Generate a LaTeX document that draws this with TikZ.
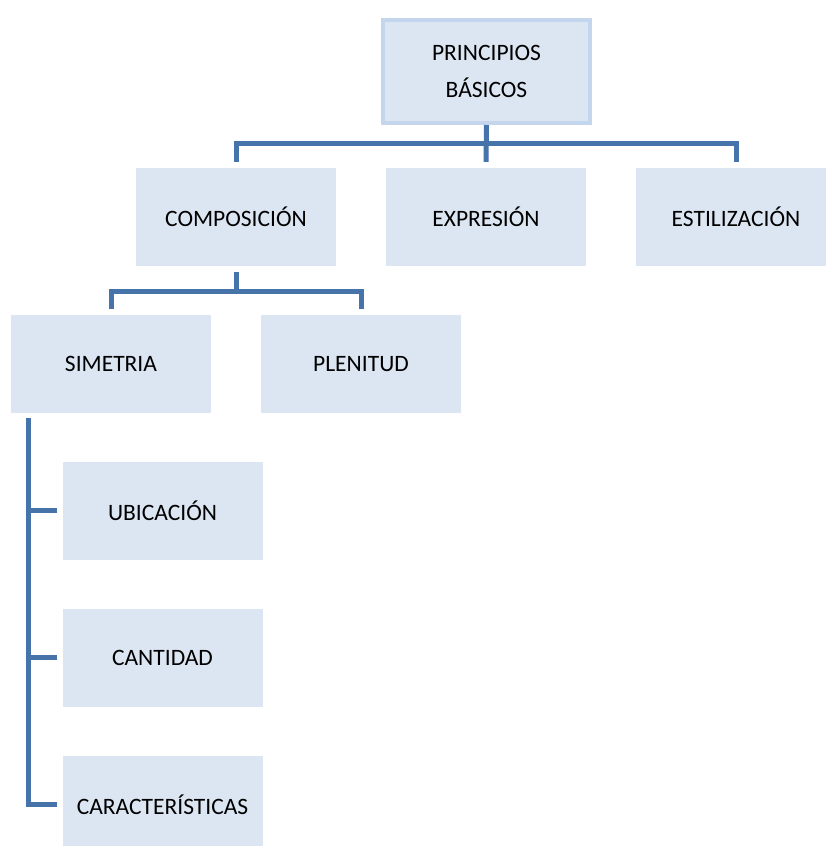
\documentclass[tikz,border=0pt]{standalone}
\usepackage{fontspec}
\setmainfont{Carlito}
\definecolor{boxfill}{HTML}{DCE6F2}
\definecolor{topborder}{HTML}{C3D6EE}
\definecolor{connblue}{HTML}{4673A9}
\begin{document}
\begin{tikzpicture}[x=1pt,y=-1pt,
  box/.style={fill=boxfill, draw=none, minimum width=200pt, minimum height=98pt,
    inner sep=0pt, font=\fontsize{23.5}{37}\selectfont, align=center},
  topbox/.style={box, draw=topborder, line width=4pt, minimum width=207pt, minimum height=103pt},
  conn/.style={draw=connblue, line width=5pt}]
\path[use as bounding box, clip] (0,0) rectangle (826,846);
\fill[white] (0,0) rectangle (826,846);
% nodes
\node[topbox] (top) at (486.5,71.5) {PRINCIPIOS\\BÁSICOS};
\node[box] (comp) at (236,217) {COMPOSICIÓN};
\node[box] (expr) at (486,217) {EXPRESIÓN};
\node[box] (estil) at (736,217) {ESTILIZACIÓN};
\node[box] (sim) at (111,364) {SIMETRIA};
\node[box] (plen) at (361,364) {PLENITUD};
\node[box] (ubic) at (162.5,510.5) {UBICACIÓN};
\node[box] (cant) at (162.5,657.5) {CANTIDAD};
\node[box] (carac) at (162.5,804.5) {CARACTERÍSTICAS};
% level 1 -> 2
\draw[conn] (top.south) -- ([yshift=6pt]expr.north);
\draw[conn] ([yshift=6pt]comp.north) -- ++(0,18pt) -| ([yshift=6pt]estil.north);
% level 2 -> 3
\draw[conn] ([yshift=-6pt]comp.south) -- ++(0,-20pt);
\draw[conn] ([yshift=6pt]sim.north) -- ++(0,17pt) -| ([yshift=6pt]plen.north);
% level 3 -> 4
\coordinate (vtop) at (28,418);
\draw[conn] (vtop) |- ([xshift=-5pt]carac.west);
\draw[conn] ([xshift=-5pt]ubic.west) -- (ubic.west -| vtop);
\draw[conn] ([xshift=-5pt]cant.west) -- (cant.west -| vtop);
\end{tikzpicture}
\end{document}
